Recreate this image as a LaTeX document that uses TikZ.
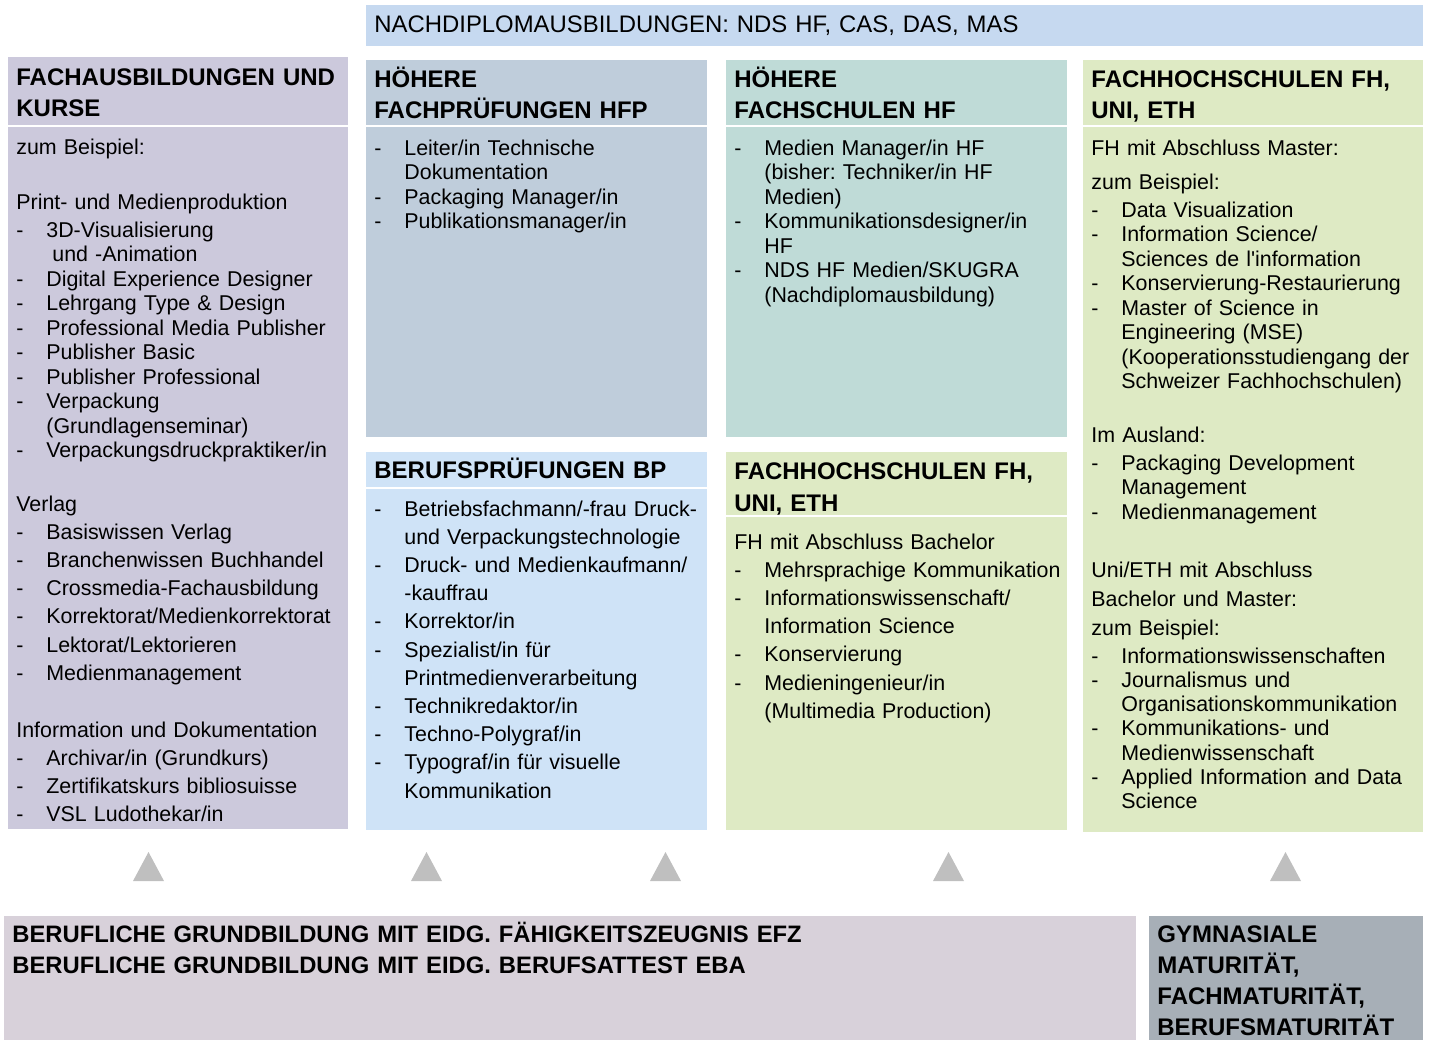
\documentclass[tikz,border=0pt]{standalone}
\usepackage{fontspec}
\setmainfont{Liberation Sans}
\frenchspacing

\definecolor{topblue}{HTML}{C6D9F0}
\definecolor{kursviolet}{HTML}{CCC9DC}
\definecolor{hfpblue}{HTML}{BFCDDB}
\definecolor{bpblue}{HTML}{CFE3F7}
\definecolor{hfteal}{HTML}{BFDBD7}
\definecolor{fhgreen}{HTML}{DEEAC4}
\definecolor{grundrose}{HTML}{D8D1DA}
\definecolor{matgray}{HTML}{A7AFB7}
\definecolor{trigray}{HTML}{BFBFBF}

\newcommand{\itm}{\makebox[15pt][l]{-}}
\newcommand{\ctd}{\hspace*{15pt}}

\tikzset{
  hdr/.style={anchor=base west, inner sep=0pt, align=left, text width=168pt,
    font=\bfseries\fontsize{12}{15.5}\selectfont},
  txt/.style={anchor=base west, inner sep=0pt, align=left, text width=168pt,
    font=\fontsize{10.7}{12.27}\selectfont},
  loose/.style={txt, font=\fontsize{10.7}{14.1}\selectfont},
  sep/.style={white, line width=1pt},
  tri/.style={fill=trigray},
}

\begin{document}
\begin{tikzpicture}[x=0.5pt, y=-0.5pt]
    \useasboundingbox (0,0) rectangle (1429,1040);

    % Nachdiplom bar
    \fill[topblue] (366,5) rectangle (1423,46);
    \node[txt, text width=520pt, font=\fontsize{11.95}{15}\selectfont] (nds) at (374,32)
        {NACHDIPLOMAUSBILDUNGEN: NDS HF, CAS, DAS, MAS};

    % Fachausbildungen und Kurse
    \fill[kursviolet] (8,57) rectangle (348,829);
    \node[hdr] (kurshead) at (16,85) {FACHAUSBILDUNGEN UND\\KURSE};
    \draw[sep] (8,125.5) -- (348,125.5);
    \node[txt] (kursbsp) at (16,154) {zum Beispiel:};
    \node[txt] (print) at (16,209) {Print- und Medienproduktion};
    \node[txt] (printlist) at (16,237) {\itm 3D-Visualisierung\\
        \ctd\hspace*{3pt}und -Animation\\
        \itm Digital Experience Designer\\
        \itm Lehrgang Type \& Design\\
        \itm Professional Media Publisher\\
        \itm Publisher Basic\\
        \itm Publisher Professional\\
        \itm Verpackung\\
        \ctd (Grundlagenseminar)\\
        \itm Verpackungsdruckpraktiker/in};
    \node[loose] (verlag) at (16,511) {Verlag\\
        \itm Basiswissen Verlag\\
        \itm Branchenwissen Buchhandel\\
        \itm Crossmedia-Fachausbildung\\
        \itm Korrektorat/Medienkorrektorat\\
        \itm Lektorat/Lektorieren\\
        \itm Medienmanagement};
    \node[loose] (infodok) at (16,737) {Information und Dokumentation\\
        \itm Archivar/in (Grundkurs)\\
        \itm Zertifikatskurs bibliosuisse\\
        \itm VSL Ludothekar/in};

    % Hoehere Fachpruefungen
    \fill[hfpblue] (366,60) rectangle (707,437);
    \node[hdr] (hfphead) at (374,87) {HÖHERE\\FACHPRÜFUNGEN HFP};
    \draw[sep] (366,125.5) -- (707,125.5);
    \node[txt] (hfplist) at (374,155) {\itm Leiter/in Technische\\
        \ctd Dokumentation\\
        \itm Packaging Manager/in\\
        \itm Publikationsmanager/in};

    % Berufspruefungen
    \fill[bpblue] (366,452) rectangle (707,830);
    \node[hdr] (bphead) at (374,478) {BERUFSPRÜFUNGEN BP};
    \draw[sep] (366,488) -- (707,488);
    \node[loose] (bplist) at (374,516) {\itm Betriebsfachmann/-frau Druck-\\
        \ctd und Verpackungstechnologie\\
        \itm Druck- und Medienkaufmann/\\
        \ctd -kauffrau\\
        \itm Korrektor/in\\
        \itm Spezialist/in für\\
        \ctd Printmedienverarbeitung\\
        \itm Technikredaktor/in\\
        \itm Techno-Polygraf/in\\
        \itm Typograf/in für visuelle\\
        \ctd Kommunikation};

    % Hoehere Fachschulen
    \fill[hfteal] (726,60) rectangle (1067,437);
    \node[hdr] (hfhead) at (734,87) {HÖHERE\\FACHSCHULEN HF};
    \draw[sep] (726,125.5) -- (1067,125.5);
    \node[txt] (hflist) at (734,155) {\itm Medien Manager/in HF\\
        \ctd (bisher: Techniker/in HF\\
        \ctd Medien)\\
        \itm Kommunikationsdesigner/in\\
        \ctd HF\\
        \itm NDS HF Medien/SKUGRA\\
        \ctd (Nachdiplomausbildung)};

    % Fachhochschulen Bachelor
    \fill[fhgreen] (726,452) rectangle (1067,830);
    \node[hdr, font=\bfseries\fontsize{12}{16}\selectfont] (bachead) at (734,479)
        {FACHHOCHSCHULEN FH,\\UNI, ETH};
    \draw[sep] (726,516) -- (1067,516);
    \node[loose] (baclist) at (734,549) {FH mit Abschluss Bachelor\\
        \itm Mehrsprachige Kommunikation\\
        \itm Informationswissenschaft/\\
        \ctd Information Science\\
        \itm Konservierung\\
        \itm Medieningenieur/in\\
        \ctd (Multimedia Production)};

    % Fachhochschulen Master, Uni, ETH
    \fill[fhgreen] (1083,60) rectangle (1423,832);
    \node[hdr] (mashead) at (1091,87) {FACHHOCHSCHULEN FH,\\UNI, ETH};
    \draw[sep] (1083,125.5) -- (1423,125.5);
    \node[txt] (master) at (1091,155) {FH mit Abschluss Master:};
    \node[txt] (masbsp) at (1091,189) {zum Beispiel:};
    \node[txt] (maslist) at (1091,217) {\itm Data Visualization\\
        \itm Information Science/\\
        \ctd Sciences de l\textquotesingle information\\
        \itm Konservierung-Restaurierung\\
        \itm Master of Science in\\
        \ctd Engineering (MSE)\\
        \ctd (Kooperationsstudiengang der\\
        \ctd Schweizer Fachhochschulen)};
    \node[txt] (ausland) at (1091,442) {Im Ausland:};
    \node[txt] (auslist) at (1091,470) {\itm Packaging Development\\
        \ctd Management\\
        \itm Medienmanagement};
    \node[txt, font=\fontsize{10.7}{14.5}\selectfont] (uni) at (1091,577)
        {Uni/ETH mit Abschluss\\Bachelor und Master:\\zum Beispiel:};
    \node[txt, font=\fontsize{10.7}{12.15}\selectfont] (unilist) at (1091,663)
        {\itm Informationswissenschaften\\
        \itm Journalismus und\\
        \ctd Organisationskommunikation\\
        \itm Kommunikations- und\\
        \ctd Medienwissenschaft\\
        \itm Applied Information and Data\\
        \ctd Science};

    % arrows up
    \fill[tri] (133,881) -- (148.5,852) -- (164,881) -- cycle;
    \fill[tri] (411,881) -- (426.5,852) -- (442,881) -- cycle;
    \fill[tri] (650,881) -- (665.5,852) -- (681,881) -- cycle;
    \fill[tri] (933,881) -- (948.5,852) -- (964,881) -- cycle;
    \fill[tri] (1270,881) -- (1285.5,852) -- (1301,881) -- cycle;

    % Grundbildung
    \fill[grundrose] (4,916) rectangle (1136,1040);
    \node[hdr, text width=560pt, font=\bfseries\fontsize{11.9}{15.5}\selectfont] (grund) at (12,942)
        {BERUFLICHE GRUNDBILDUNG MIT EIDG. FÄHIGKEITSZEUGNIS EFZ\\
        BERUFLICHE GRUNDBILDUNG MIT EIDG. BERUFSATTEST EBA};

    % Maturitaet
    \fill[matgray] (1149,916) rectangle (1423,1040);
    \node[hdr] (matur) at (1157,942)
        {GYMNASIALE\\MATURITÄT,\\FACHMATURITÄT,\\BERUFSMATURITÄT};

\end{tikzpicture}
\end{document}
